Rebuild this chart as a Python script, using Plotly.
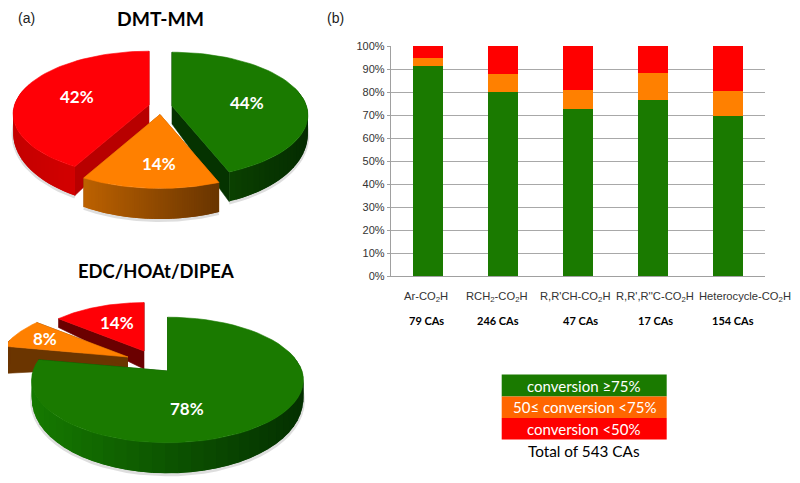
import numpy as np
import plotly.graph_objects as go

# bar chart values, percent of each acid class
categories = ['Ar-CO<sub>2</sub>H', 'RCH<sub>2</sub>-CO<sub>2</sub>H', "R,R'CH-CO<sub>2</sub>H",
              "R,R',R''C-CO<sub>2</sub>H", 'Heterocycle-CO<sub>2</sub>H']
counts = ['79 CAs', '246 CAs', '47 CAs', '17 CAs', '154 CAs']
high = [91.5, 80.0, 72.7, 76.5, 69.7]
mid = [3.3, 8.0, 8.2, 11.8, 10.8]
low = [5.2, 12.0, 19.1, 11.7, 19.5]
y_ticks = [0, 10, 20, 30, 40, 50, 60, 70, 80, 90, 100]
y_labels = ['0%', '10%', '20%', '30%', '40%', '50%', '60%', '70%', '80%', '90%', '100%']

# pie shares in clockwise order from 12 o'clock
dmt_shares = [44, 14, 42]
edc_shares = [78, 8, 14]
legend_labels = ['conversion ≥75%', '50≤ conversion <75%', 'conversion <50%']

GREEN = '#1a7a00'
ORANGE = '#ff8000'
RED = '#ff0006'

# the page body has an 8px margin, so the figure starts at 8,8 of the window
W, H = 792, 475
OFF = 8

# apex px, scale, depth at apex, depth at rim, top, cut wall, rim left, rim right
dmt_style = [
    dict(apex=(172, 106), scale=1.0, d0=18, d1=17, top=GREEN, cut='#053300', left='#0f5000', right='#052c00'),
    dict(apex=(160, 114.5), scale=1.03, d0=18, d1=17, top=ORANGE, cut='#a05000', left='#bd6200', right='#693500'),
    dict(apex=(149, 105), scale=1.0, d0=20, d1=17, top=RED, cut='#b80000', left='#c40000', right='#e60000'),
]
edc_style = [
    dict(apex=(167.5, 371), scale=1.0, d0=17, d1=17, top=GREEN, cut='#0a4000', left='#167a00', right='#043000'),
    dict(apex=(128, 357), scale=0.96, d0=10, d1=32, top=ORANGE, cut='#6b3500', left='#6b3500', right='#6b3500'),
    dict(apex=(144, 351), scale=0.9, d0=18, d1=18, top=RED, cut='#6b0000', left='#7a0000', right='#7a0000'),
]


def project(theta, apex, scale):
    # perspective view of a flat disc, near side comes out larger
    p = 0.143
    sx = np.sin(theta)
    sy = np.cos(theta)
    w = 1 + p * sy
    return apex[0] + scale * 134.5 * sx / w, apex[1] - scale * 61.5 * sy / w, sy


def mix(c1, c2, t):
    a = [int(c1[i:i + 2], 16) for i in (1, 3, 5)]
    b = [int(c2[i:i + 2], 16) for i in (1, 3, 5)]
    return 'rgb(%d,%d,%d)' % tuple(a[i] + (b[i] - a[i]) * t for i in range(3))


def poly(fig, xs, ys, color, width=0.6):
    fig.add_trace(go.Scatter(x=xs, y=ys, mode='lines', fill='toself', fillcolor=color,
                             line=dict(color=color, width=width), hoverinfo='skip',
                             showlegend=False, xaxis='x2', yaxis='y2'))


def wedge(fig, start, end, st):
    ax, ay = st['apex']
    t = np.linspace(start, end, 60)
    x, y, c = project(t, st['apex'], st['scale'])
    depth = st['d1'] * (1 - 0.8 * c)
    # faint shadow under the front rim
    front = c < 0.3
    fig.add_trace(go.Scatter(x=x[front], y=(y + depth + 1.5)[front], mode='lines',
                             line=dict(color='rgba(0,0,0,0.13)', width=3), hoverinfo='skip',
                             showlegend=False, xaxis='x2', yaxis='y2'))
    # walls of the two cut faces
    for i in (0, -1):
        poly(fig, [ax, x[i], x[i], ax], [ay, y[i], y[i] + depth[i], ay + st['d0']], st['cut'])
    # outer wall as strips going left to right, each one lapped by the next
    lo, hi = x.min(), x.max()
    idx = [i for i in range(len(t) - 1) if not (c[i] > 0.3 and c[i + 1] > 0.3)]
    idx.sort(key=lambda i: min(x[i], x[i + 1]))
    for i in idx:
        a, b = (i, i + 1) if x[i] < x[i + 1] else (i + 1, i)
        b2 = b + (b - a)
        if 0 <= b2 < len(t) and x[b2] > x[b]:
            b = b2
        col = mix(st['left'], st['right'], ((x[i] + x[i + 1]) / 2 - lo) / (hi - lo))
        poly(fig, [x[a], x[b], x[b], x[a]], [y[a], y[b], y[b] + depth[b], y[a] + depth[a]], col, 0)
    poly(fig, [ax, *x, ax], [ay, *y, ay], st['top'])


def pie(fig, shares, styles, order):
    edges = np.cumsum([0] + shares) / sum(shares) * 2 * np.pi
    for i in order:
        wedge(fig, edges[i], edges[i + 1], styles[i])


fig = go.Figure()

for name, vals, col in [('high', high, GREEN), ('mid', mid, ORANGE), ('low', low, '#ff0000')]:
    fig.add_trace(go.Bar(x=list(range(5)), y=vals, name=name, marker=dict(color=col, line_width=0),
                         width=0.4, showlegend=False))

# pixel axes over the whole page for the drawn pies and the text
pie(fig, dmt_shares, dmt_style, [2, 0, 1])
pie(fig, edc_shares, edc_style, [2, 1, 0])


def text(x, y, s, size, color='black', family='Lato', bold=False):
    if bold:
        s = '<b>' + s + '</b>'
    fig.add_annotation(x=x, y=y, xref='x2', yref='y2', text=s, showarrow=False,
                       font=dict(size=size, color=color, family=family))


for x, s in zip([425.7, 497, 575, 655, 745], categories):
    text(x, 297, s, 11.2, '#333333', 'Liberation Sans')
for x, s in zip([426.7, 498, 580.7, 655, 733], counts):
    text(x, 320.5, s, 11, bold=True)

text(26, 18, '(a)', 14, '#222222', 'Liberation Sans')
text(335, 18, '(b)', 14, '#222222', 'Liberation Sans')
text(160, 18, 'DMT-MM', 19.3, bold=True)
text(155.5, 271, 'EDC/HOAt/DIPEA', 18.4, bold=True)

for (x, y), share in zip([(247, 102), (159, 163), (77, 96)], dmt_shares):
    text(x, y, f'{share}%', 17, 'white', bold=True)
for (x, y), share in zip([(187, 408), (45, 338), (117, 322)], edc_shares):
    text(x, y, f'{share}%', 17, 'white', bold=True)

for top, bottom, col, label in zip([374.5, 396.5, 418], [396.5, 418, 439.5],
                                   [GREEN, '#ff6600', '#ff0000'], legend_labels):
    fig.add_shape(type='rect', xref='x2', yref='y2', x0=501.7, x1=666.7, y0=top, y1=bottom,
                  fillcolor=col, line_width=0, layer='below')
    text(584, (top + bottom) / 2, label, 15, 'white')
text(584, 451, 'Total of 543 CAs', 15.3)

fig.update_layout(
    width=W, height=H, margin=dict(l=0, r=0, t=0, b=0),
    barmode='stack', paper_bgcolor='white', plot_bgcolor='rgba(0,0,0,0)',
    xaxis=dict(domain=[(391 - OFF) / W, (765 - OFF) / W], range=[-0.5, 4.5], showticklabels=False, ticks='',
               showgrid=False, showline=True, linecolor='#a0a0a0', linewidth=1.3, zeroline=False,
               automargin=False),
    yaxis=dict(domain=[(483 - 276) / H, (483 - 46) / H], range=[0, 100], tickvals=y_ticks, ticktext=y_labels,
               ticks='outside', ticklen=3, tickcolor='#a0a0a0', showline=True, linecolor='#a0a0a0',
               linewidth=1.3, gridcolor='#a8a8a8', gridwidth=1.3, zeroline=False, automargin=False,
               tickfont=dict(size=11, color='#333333', family='Liberation Sans')),
    xaxis2=dict(domain=[0, 1], range=[OFF, 800], visible=False, anchor='y2', automargin=False),
    yaxis2=dict(domain=[0, 1], range=[483, OFF], visible=False, anchor='x2', automargin=False),
)

fig.write_html("out.html")
